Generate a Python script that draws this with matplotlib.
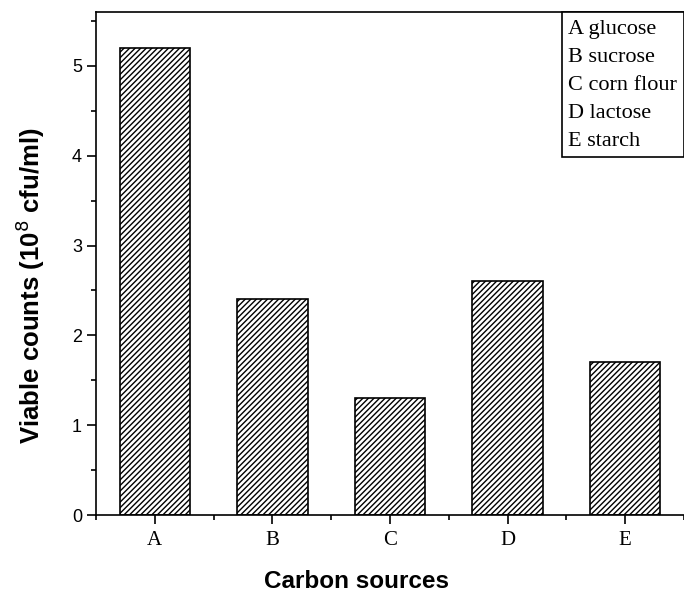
import matplotlib.pyplot as plt
from matplotlib.patches import Patch
from matplotlib.ticker import MultipleLocator

# carbon sources and viable counts (10^8 cfu/ml)
categories = ['A', 'B', 'C', 'D', 'E']
sources = ['glucose', 'sucrose', 'corn flour', 'lactose', 'starch']
counts = [5.2, 2.4, 1.3, 2.6, 1.7]

plt.rcParams['hatch.linewidth'] = 1.0

fig = plt.figure(figsize=(6.84, 5.92), dpi=100)
ax = fig.add_axes([96 / 684, 77 / 592, 588 / 684, 503 / 592])

x = range(len(categories))
ax.bar(x, counts, width=0.6, color='white', edgecolor='black',
       hatch='//////', linewidth=1.2)

ax.set_xlim(-0.5, 4.5)
ax.set_ylim(0, 5.6)
ax.set_xticks(list(x))
ax.set_xticklabels(categories, fontfamily='Liberation Serif', fontsize=15)
ax.xaxis.set_minor_locator(MultipleLocator(1.0, offset=0.5))
ax.yaxis.set_major_locator(MultipleLocator(1))
ax.yaxis.set_minor_locator(MultipleLocator(0.5))
for lab in ax.get_yticklabels():
    lab.set_fontfamily('Liberation Sans')
    lab.set_fontsize(13)

ax.tick_params(which='major', direction='out', length=6.5, width=1.2, pad=3.5)
ax.tick_params(which='minor', direction='out', length=3.7, width=1.2)
ax.tick_params(axis='x', which='major', pad=5)
ax.tick_params(axis='x', which='minor', bottom=True)
for s in ['left', 'bottom', 'top']:
    ax.spines[s].set_linewidth(1.2)
ax.spines['right'].set_visible(False)

ax.set_xlabel('Carbon sources', fontfamily='Liberation Sans', fontsize=17.5,
              fontweight='bold', va='center')
ax.xaxis.set_label_coords((357 - 96) / 588, (515 - 581) / 503)
ax.set_ylabel('Viable counts (10$^{8}$ cfu/ml)', fontfamily='Liberation Sans',
              fontsize=18.5, fontweight='bold', va='center')
ax.yaxis.set_label_coords((30 - 96) / 588, (515 - 286) / 503)

handles = [Patch(visible=False) for _ in categories]
labels = [c + ' ' + s for c, s in zip(categories, sources)]
leg = ax.legend(handles, labels, loc='upper right', handlelength=0,
                handletextpad=0, borderaxespad=0, fancybox=False,
                framealpha=1, edgecolor='black', labelspacing=0.33,
                borderpad=0.3,
                prop={'family': 'Liberation Serif', 'size': 16})
leg.get_frame().set_linewidth(1.2)

plt.savefig('out.png', dpi=100)
